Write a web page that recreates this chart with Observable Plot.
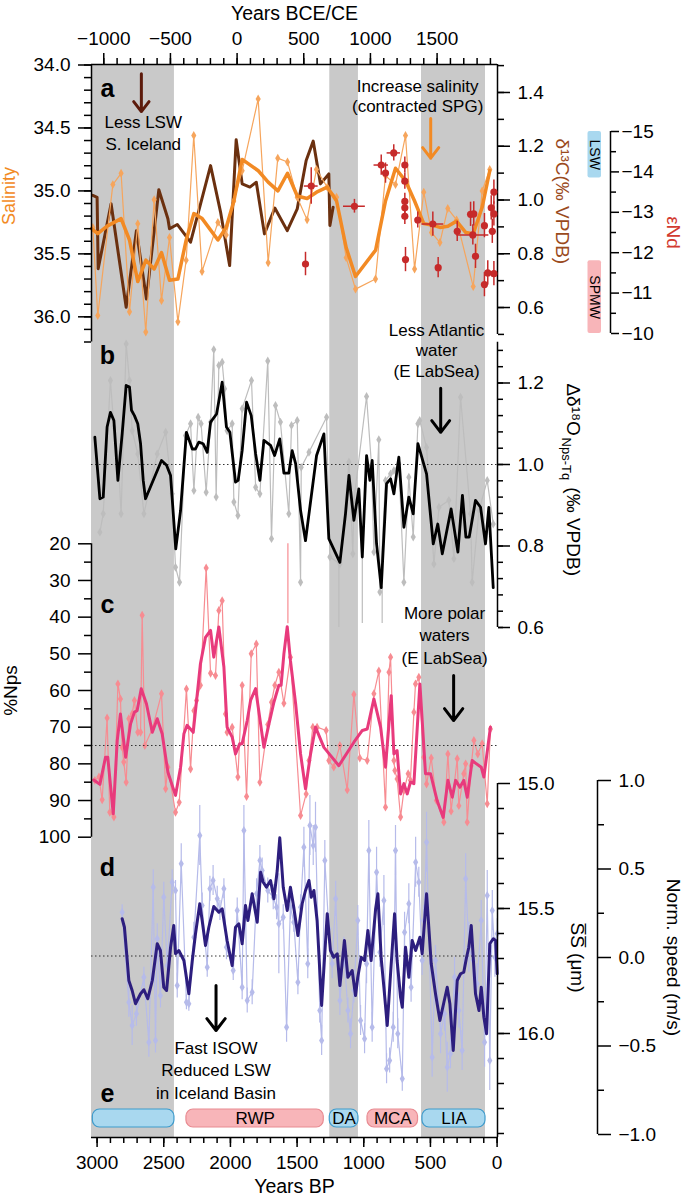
<!DOCTYPE html>
<html><head><meta charset="utf-8">
<script src="https://cdn.jsdelivr.net/npm/d3@7"></script>
<script src="https://cdn.jsdelivr.net/npm/@observablehq/plot@0.6"></script>
<style>
body{margin:0;background:#fff;}
#chart{position:relative;width:685px;height:1199px;overflow:hidden;}
</style></head><body><div id="chart"></div>
<script>
// ---------------- DATA ----------------
const grayBands = [[3042, 2420], [1255, 1040], [567, 87]];
const periods = [[3032, 2420, "", "cold"], [2330, 1300, "RWP", "warm"], [1255, 1040, "DA", "cold"], [972, 593, "MCA", "warm"], [560, 87, "LIA", "cold"]];
const bpMajor = [3000, 2500, 2000, 1500, 1000, 500, 0];
const ceMajor = [-1000, -500, 0, 500, 1000, 1500];
const salMajor = [34.0, 34.5, 35.0, 35.5, 36.0];
const d13Major = [0.6, 0.8, 1.0, 1.2, 1.4];
const endMajor = [-15, -14, -13, -12, -11, -10];
const d18Major = [0.6, 0.8, 1.0, 1.2];
const npsMajor = [20, 30, 40, 50, 60, 70, 80, 90, 100];
const ssMajor = [15.0, 15.5, 16.0];
const speedMajor = [-1.0, -0.5, 0.0, 0.5, 1.0];
const waterMasses = [["LSW", -15, -13.85, "#a9d8ef"], ["SPMW", -11.8, -10.0, "#f8b5b9"]];

// panel a: salinity (BP, psu)
const salinityThin = [[3032,35.29],[2995,35.99],[2882,34.95],[2820,34.86],[2757,35.96],[2695,35.26],[2635,36.12],[2572,35.07],[2517,35.87],[2457,35.37],[2394,36.04],[2332,35.55],[2275,34.56],[2213,35.64],[2094,35.25],[2032,35.35],[1975,35.08],[1912,34.84],[1792,34.27],[1717,35.57],[1645,34.74],[1572,34.77],[1499,35.05],[1425,35.23],[1355,34.83],[1274,34.97],[1204,35.05],[1132,35.53],[1062,35.78],[912,35.70],[837,34.88],[762,34.95],[687,34.56],[619,35.62],[550,35.01],[492,35.33],[429,35.41],[370,35.14],[304,35.23],[179,35.76],[112,35.00],[55,34.83]];
const salinitySmooth = [[3042,35.30],[2995,35.34],[2925,35.28],[2820,35.22],[2757,35.39],[2695,35.72],[2634,35.55],[2572,35.62],[2517,35.49],[2457,35.71],[2394,35.70],[2332,35.39],[2274,35.18],[2212,35.22],[2094,35.39],[2032,35.29],[1974,35.08],[1912,34.75],[1791,34.84],[1717,34.93],[1644,35.00],[1572,34.86],[1499,35.04],[1425,35.06],[1354,35.01],[1274,34.97],[1204,35.08],[1132,35.45],[1062,35.68],[911,35.47],[837,35.08],[762,34.82],[687,34.92],[619,35.08],[550,35.26],[492,35.27],[429,35.29],[369,35.28],[304,35.24],[236,35.33],[179,35.34],[112,35.13],[55,34.84]];
// panel a: d13C (BP, permil)
const d13C = [[3032,1.017],[3000,1.010],[2992,0.744],[2895,0.986],[2782,0.601],[2705,0.886],[2630,0.632],[2537,1.038],[2469,0.930],[2457,0.893],[2399,0.909],[2299,0.843],[2149,1.128],[2074,0.955],[2006,0.756],[1957,1.224],[1912,1.060],[1854,1.048],[1806,1.066],[1745,0.874],[1667,0.970],[1574,0.886],[1499,0.967],[1432,1.147],[1379,1.219],[1325,1.060],[1262,1.097],[1254,0.905],[1230,0.973]];
// panel a: eNd (BP, eNd, yErr, xErr)
const eNd = [[1437,-11.72,0.29,0],[1394,-13.65,0.45,52],[1070,-13.15,0.17,82],[869,-14.17,0.25,54],[837,-13.97,0.25,0],[775,-14.47,0.2,50],[692,-14.17,0.2,0],[692,-13.77,0.2,0],[692,-13.27,0.2,0],[692,-13.11,0.2,0],[692,-12.90,0.2,0],[687,-11.83,0.3,0],[595,-12.81,0.2,0],[482,-12.71,0.3,82],[442,-11.63,0.25,0],[299,-12.53,0.25,0],[199,-12.95,0.3,0],[175,-12.96,0.3,0],[182,-12.44,0.25,120],[162,-11.91,0.3,0],[95,-11.21,0.3,0],[95,-12.67,0.3,0],[70,-11.50,0.3,0],[44,-13.11,0.3,0],[24,-13.50,0.3,0],[24,-12.96,0.3,0],[36,-12.53,0.3,0],[24,-11.48,0.3,0]];

// panel b: delta d18O Nps-Tq
const d18Thin = [[2979,0.834],[2954,0.879],[2900,1.206],[2874,1.092],[2844,1.026],[2820,0.879],[2782,1.296],[2757,1.206],[2737,1.083],[2695,1.026],[2649,0.879],[2549,1.026],[2486,1.079],[2437,0.928],[2412,0.748],[2382,0.711],[2337,1.071],[2299,1.100],[2274,0.936],[2242,1.116],[2220,1.100],[2182,0.932],[2149,1.104],[2125,1.282],[2107,0.920],[2087,1.243],[2062,1.251],[2044,1.186],[2025,1.083],[1987,1.100],[1974,0.908],[1944,0.875],[1912,1.137],[1842,1.206],[1811,0.944],[1779,0.928],[1720,1.254],[1692,0.818],[1662,1.145],[1625,1.104],[1562,0.879],[1542,1.096],[1499,1.108],[1474,0.711],[1469,0.993],[1411,1.030],[1279,1.116],[1254,0.773],[1179,0.756],[1111,1.006],[1082,0.781],[1074,0.912],[979,1.167],[942,0.998],[924,0.785],[887,1.061],[879,0.687],[837,0.961],[799,0.977],[774,0.985],[737,1.002],[699,0.711],[662,0.969],[629,0.822],[594,1.100],[580,1.108],[529,1.042],[474,0.756],[436,0.895],[362,0.912],[324,0.769],[274,1.165],[199,0.879],[187,0.711],[136,0.887],[74,0.961],[29,0.854]];
const d18Smooth = [[3017,1.067],[2979,0.916],[2954,0.920],[2925,1.092],[2900,1.128],[2874,1.108],[2844,0.961],[2812,1.075],[2782,1.194],[2757,1.190],[2742,1.133],[2720,1.120],[2695,1.100],[2674,1.051],[2654,0.961],[2637,0.916],[2517,1.010],[2479,0.998],[2449,0.973],[2410,0.793],[2374,0.887],[2330,1.079],[2286,1.038],[2262,1.038],[2237,1.055],[2205,1.051],[2174,1.030],[2149,1.104],[2104,1.124],[2062,1.202],[2030,1.092],[2004,1.079],[1962,0.957],[1942,0.961],[1912,1.034],[1879,1.153],[1844,1.120],[1811,1.026],[1779,0.961],[1749,1.059],[1699,1.047],[1669,1.022],[1630,1.063],[1599,0.979],[1562,0.979],[1537,1.034],[1511,1.002],[1474,0.887],[1437,0.813],[1354,1.022],[1299,1.075],[1262,0.818],[1179,0.760],[1137,0.879],[1111,0.973],[1074,0.863],[1037,0.940],[1011,0.773],[979,1.022],[954,0.961],[937,1.010],[904,0.805],[869,0.698],[829,0.953],[799,0.965],[774,0.928],[737,1.018],[699,0.846],[662,0.920],[629,0.879],[594,1.051],[529,0.977],[479,0.805],[445,0.854],[411,0.781],[345,0.891],[294,0.785],[260,0.924],[234,0.822],[209,0.822],[162,0.912],[124,0.895],[87,0.805],[62,0.895],[29,0.698]];
const d18Err = [[1187,0.60,0.76],[1011,0.61,0.78],[862,0.61,0.70]];

// panel c: %Nps
const npsThin = [[3017,84.5],[2986,83.6],[2962,89.8],[2925,67.5],[2905,93.2],[2874,94.5],[2844,58.2],[2825,62.3],[2812,75.5],[2800,79.5],[2782,85.0],[2762,67.7],[2737,66.4],[2720,62.7],[2695,71.4],[2674,71.4],[2662,39.5],[2642,75.0],[2586,70.5],[2517,60.9],[2486,86.8],[2469,80.9],[2412,93.2],[2384,90.5],[2330,59.6],[2299,81.4],[2274,65.5],[2254,62.7],[2225,58.6],[2182,26.6],[2149,55.3],[2112,55.9],[2087,38.2],[2062,35.5],[2037,66.4],[2025,71.4],[1987,70.0],[1944,83.6],[1912,58.6],[1879,88.9],[1844,50.0],[1806,47.3],[1779,85.0],[1720,69.3],[1692,63.2],[1667,58.6],[1637,55.0],[1599,63.5],[1550,50.9],[1474,94.1],[1432,88.2],[1411,79.1],[1382,70.0],[1350,70.0],[1282,70.9],[1262,79.1],[1225,80.9],[1179,75.0],[1124,87.1],[1074,61.1],[1030,78.4],[974,79.1],[924,60.9],[887,54.7],[837,91.8],[811,55.0],[799,50.9],[774,79.1],[767,81.8],[750,84.1],[724,94.5],[699,87.3],[667,82.7],[650,84.5],[624,65.9],[612,58.2],[587,56.4],[550,78.2],[529,85.5],[494,78.4],[455,90.0],[399,95.9],[369,77.3],[345,92.9],[299,78.6],[287,91.4],[250,82.7],[236,80.0],[224,95.9],[194,80.5],[174,73.6],[145,77.3],[112,74.5],[74,90.9],[50,70.5]];
const npsSmooth = [[3025,84.4],[2979,85.6],[2937,78.2],[2920,78.2],[2879,93.6],[2849,73.6],[2825,66.4],[2786,78.2],[2749,69.1],[2720,65.9],[2700,65.5],[2669,59.5],[2630,63.6],[2586,71.4],[2549,67.7],[2512,71.8],[2469,82.3],[2412,88.6],[2374,80.9],[2349,71.8],[2325,69.5],[2279,71.4],[2225,52.7],[2187,45.5],[2149,43.6],[2125,50.9],[2087,42.7],[2049,53.6],[2025,70.0],[1987,72.7],[1962,77.3],[1930,74.5],[1912,74.5],[1874,68.2],[1849,62.7],[1811,59.5],[1749,75.5],[1711,69.1],[1674,63.2],[1637,58.6],[1620,58.6],[1599,50.0],[1574,42.6],[1550,51.8],[1511,63.6],[1474,77.3],[1437,86.8],[1399,77.3],[1362,70.0],[1299,75.5],[1187,80.5],[1074,74.1],[1011,70.9],[974,70.5],[924,62.3],[874,70.0],[837,80.9],[794,61.4],[774,77.3],[750,76.4],[724,88.2],[699,85.4],[674,88.2],[650,85.0],[624,85.4],[579,58.2],[537,82.7],[499,82.7],[450,90.0],[404,94.6],[369,84.5],[336,89.1],[311,84.5],[279,86.4],[250,84.5],[224,89.1],[187,79.1],[155,80.0],[119,80.9],[99,83.6],[50,70.0]];
const npsErr = [[1569,20,41.8]];

// panel d: sortable silt mean size (BP, um, err)
const ssThin = [[2812,15.515,0.03],[2762,15.875,0.06],[2737,15.968,0.08],[2705,15.921,0.05],[2649,15.775,0.04],[2612,16.035,0.06],[2579,15.415,0.07],[2562,16.028,0.05],[2549,15.621,0.06],[2525,15.848,0.05],[2500,15.455,0.06],[2474,15.728,0.04],[2437,15.395,0.05],[2412,15.428,0.04],[2399,15.808,0.05],[2369,15.321,0.08],[2330,15.875,0.03],[2312,15.881,0.03],[2274,15.615,0.06],[2230,15.208,0.12],[2212,15.488,0.05],[2174,15.735,0.04],[2154,15.421,0.05],[2130,15.388,0.06],[2099,15.461,0.05],[2079,15.508,0.04],[2049,15.421,0.04],[2030,15.655,0.05],[1979,15.748,0.04],[1949,15.508,0.05],[1912,15.815,0.05],[1899,15.188,0.1],[1874,15.868,0.05],[1837,15.835,0.05],[1804,15.441,0.06],[1779,15.308,0.06],[1762,15.348,0.05],[1720,15.428,0.05],[1679,15.455,0.05],[1654,15.495,0.05],[1637,15.561,0.2],[1604,15.535,0.05],[1579,15.975,0.06],[1550,15.495,0.05],[1525,15.555,0.04],[1494,15.795,0.05],[1474,15.495,0.05],[1449,15.255,0.08],[1420,15.721,0.06],[1404,15.168,0.12],[1379,15.248,0.08],[1362,15.175,0.1],[1330,15.908,0.05],[1316,16.028,0.06],[1292,15.308,0.08],[1262,15.581,0.06],[1237,15.721,0.06],[1211,15.461,0.07],[1179,15.868,0.06],[1149,15.675,0.06],[1119,15.908,0.05],[1099,16.001,0.06],[1074,15.828,0.05],[1045,15.548,0.06],[1024,15.948,0.06],[994,16.021,0.06],[979,15.721,0.08],[962,15.268,0.12],[937,15.975,0.06],[904,15.355,0.1],[879,15.675,0.06],[849,15.468,0.1],[829,16.141,0.06],[806,16.108,0.05],[779,15.975,0.06],[762,15.268,0.1],[745,16.001,0.06],[711,16.181,0.05],[694,15.595,0.08],[662,15.481,0.08],[645,15.815,0.06],[611,15.315,0.1],[587,15.395,0.06],[562,15.708,0.06],[550,15.548,0.06],[529,15.235,0.12],[487,16.095,0.08],[462,15.708,0.06],[424,16.001,0.08],[394,15.921,0.07],[374,16.135,0.1],[350,16.081,0.06],[319,15.775,0.08],[287,15.908,0.07],[262,16.068,0.08],[236,15.381,0.1],[212,15.655,0.1],[179,15.708,0.08],[150,15.801,0.08],[119,15.548,0.08],[94,16.035,0.1],[74,15.448,0.1],[55,16.108,0.12],[36,15.508,0.08],[16,15.695,0.08],[-1,15.601,0.06]];
const ssSmooth = [[2812,15.541],[2795,15.575],[2774,15.708],[2762,15.788],[2737,15.828],[2712,15.881],[2674,15.841],[2649,15.825],[2620,15.861],[2586,15.788],[2549,15.641],[2525,15.668],[2500,15.815],[2479,15.828],[2449,15.655],[2425,15.568],[2412,15.681],[2387,15.668],[2349,15.708],[2312,15.841],[2286,15.708],[2262,15.601],[2230,15.481],[2212,15.548],[2187,15.648],[2162,15.575],[2125,15.492],[2087,15.515],[2062,15.501],[2025,15.628],[1987,15.728],[1962,15.575],[1937,15.561],[1912,15.641],[1887,15.488],[1869,15.548],[1837,15.441],[1799,15.555],[1774,15.355],[1754,15.395],[1730,15.415],[1699,15.388],[1674,15.461],[1649,15.348],[1630,15.217],[1604,15.415],[1574,15.508],[1550,15.415],[1525,15.495],[1494,15.608],[1462,15.481],[1437,15.428],[1411,15.388],[1394,15.455],[1374,15.428],[1350,15.548],[1316,15.888],[1274,15.521],[1250,15.668],[1225,15.695],[1199,15.681],[1179,15.808],[1145,15.628],[1119,15.775],[1087,15.748],[1062,15.848],[1045,15.775],[1019,15.695],[994,15.708],[969,15.588],[945,15.708],[911,15.501],[894,15.441],[869,15.701],[849,15.815],[824,15.968],[799,15.761],[769,15.521],[750,15.708],[724,15.855],[711,15.895],[687,15.655],[662,15.775],[637,15.628],[611,15.668],[579,15.615],[562,15.681],[529,15.441],[494,15.721],[462,15.841],[429,15.948],[399,15.875],[374,15.815],[354,15.881],[329,16.068],[299,15.788],[274,15.761],[250,15.755],[229,15.695],[212,15.655],[194,15.568],[162,15.841],[136,15.908],[119,15.815],[99,15.935],[79,16.001],[55,15.641],[29,15.621],[11,15.628],[-1,15.761]];
const ssMeanLine = [15.69];

// annotations: [text, BP, value]
const notesA = [["Less LSW", 2654, 34.46], ["S. Iceland", 2654, 34.63], ["Increase salinity", 596, 34.17], ["(contracted SPG)", 596, 34.33]];
const notesB = [["Less Atlantic", 454, 1.329], ["water", 454, 1.280], ["(E LabSea)", 454, 1.228]];
const notesC = [["More polar", 394, 39.0], ["waters", 394, 45.0], ["(E LabSea)", 394, 51.3]];
const notesD = [["Fast ISOW", 2108, 16.06], ["Reduced LSW", 2108, 16.148], ["in Iceland Basin", 2108, 16.24]];
const arrowsA = [[2668, 34.07, 34.37, "#5c1a0b"], [498, 34.425, 34.74, "#f28a24"]];
const arrowB = [[423, 1.187, 1.079]];
const arrowC = [[326, 55.9, 68.2]];
const arrowD = [[2108, 15.808, 15.988]];

// ---------------- DRAWING ----------------
const chart = document.getElementById("chart");
const W = 685, H = 1199;
const FL = 91, FR = 497, FT = 64, FB = 1137;
const BP_L = 3042, BP_R = -3;
const FONT = "'Liberation Sans', Arial, Helvetica, sans-serif";
const X_BP = {domain: [BP_L, BP_R], range: [FL, FR]};
const ORANGE = "#f28a24", ORANGE_L = "#f6a55c", BROWN = "#6b300f", RED = "#c62a2a",
      GRAY = "#bdbdbd", PINK = "#e83a7c", PINK_L = "#f78c92", PURPLE = "#2d1e7e", PURPLE_L = "#b6bbea";
const fmt1 = d3.format(".1f"), fmt0 = d3.format("d"), blank = () => "";
const px = d => d[0], py = d => d[1];
const TICKFS = 19;

function addLayer({x = X_BP, y, marks, mt = FT, mb = H - FB, ml = FL, mr = W - FR}) {
  const svg = Plot.plot({
    width: W, height: H,
    marginTop: mt, marginBottom: mb, marginLeft: ml, marginRight: mr,
    x: {...x, axis: null},
    ...(y ? {y: {...y, axis: null}} : {}),
    style: `position:absolute;left:0;top:0;background:transparent;font-family:${FONT};font-size:18px;overflow:visible;`,
    marks
  });
  chart.appendChild(svg);
}
const axY = (anchor, ticks, size, pad, fmt) => Plot.axisY({anchor, ticks, tickSize: size, tickPadding: pad, tickFormat: fmt, fontSize: TICKFS, strokeWidth: 1.5, label: null});
const axX = (anchor, ticks, size, pad, fmt) => Plot.axisX({anchor, ticks, tickSize: size, tickPadding: pad, tickFormat: fmt, fontSize: TICKFS, strokeWidth: 1.5, label: null});
const letter = (t, bp, v) => Plot.text([[bp, v]], {x: px, y: py, text: () => t, fontSize: 25, fontWeight: "bold"});
const notes = arr => Plot.text(arr, {x: d => d[1], y: d => d[2], text: d => d[0], fontSize: 17});
const arrows = (arr, color) => Plot.arrow(arr, {x1: d => d[0], x2: d => d[0], y1: d => d[1], y2: d => d[2], stroke: d => d[3] || color, strokeWidth: 3, headLength: 14, headAngle: 75});
const sideLabel = (v, anchor, dx, rot, txt, opts = {}) => Plot.text([v], {y: d => d, frameAnchor: anchor, dx, rotate: rot, textAnchor: "middle", lineAnchor: "middle", text: () => txt, fontSize: 19, ...opts});

// background bands, frame lines and bottom BP axis
addLayer({
  y: {domain: [0, 1], range: [FT, FB]},
  marks: [
    Plot.rect(grayBands, {x1: px, x2: py, fill: "#c9c9c9"}),
    Plot.ruleY([0, 1], {stroke: "#000", strokeWidth: 1.5}),
    axX("bottom", bpMajor, 10, 8, fmt0),
    axX("bottom", d3.range(0, 3001, 100), 6, 8, blank),
    Plot.text(["Years BP"], {frameAnchor: "bottom", dy: 49, lineAnchor: "middle", fontSize: 19.5})
  ]
});
// top CE axis
addLayer({
  x: {domain: [1950 - BP_L, 1950 - BP_R], range: [FL, FR]},
  marks: [
    axX("top", ceMajor, 12, 8, fmt0),
    axX("top", d3.range(-1000, 1901, 100), 7, 8, blank),
    Plot.text(["Years BCE/CE"], {frameAnchor: "top", dy: -51, lineAnchor: "middle", fontSize: 19.5})
  ]
});
// panel e: climate periods
addLayer({
  y: {domain: [0, 1], range: [1109, 1127]},
  marks: [
    Plot.rect(periods, {x1: d => d[0], x2: d => d[1], y1: 0, y2: 1, rx: 7,
      fill: d => d[3] === "cold" ? "#a9d8ef" : "#f8b5b9", stroke: d => d[3] === "cold" ? "#3e9bcc" : "#e88b92", strokeWidth: 1.2}),
    Plot.text(periods, {x: d => (d[0] + d[1]) / 2, y: 0.5, text: d => d[2], fontSize: 17})
  ]
});
// panel a: d13C
addLayer({
  y: {domain: [0.5, 1.5], range: [333.9, 65.1]},
  marks: [
    Plot.line(d13C, {x: px, y: py, stroke: BROWN, strokeWidth: 3}),
    Plot.ruleX([BP_R], {y1: 0.5, y2: 1.504, strokeWidth: 1.5}),
    axY("right", d13Major, 12, 8, fmt1),
    axY("right", d3.range(0.5, 1.51, 0.1), 6, 8, blank),
    sideLabel(0.995, "right", 65, 90, "δ¹³C(‰ VPDB)", {fill: "#9a4a1c"})
  ]
});
// panel a: salinity
addLayer({
  y: {domain: [34, 36.2], range: [64.5, 341.5]},
  marks: [
    Plot.line(salinityThin, {x: px, y: py, stroke: ORANGE_L, strokeWidth: 1.2}),
    Plot.dot(salinityThin, {x: px, y: py, symbol: "diamond", r: 2.7, fill: ORANGE_L}),
    Plot.line(salinitySmooth, {x: px, y: py, stroke: ORANGE, strokeWidth: 3.5}),
    Plot.ruleX([BP_L], {y1: 34, y2: 36.2, strokeWidth: 1.5}),
    axY("left", salMajor, 13, 8, fmt1),
    axY("left", d3.range(34, 36.21, 0.1), 7, 8, blank),
    sideLabel(35.04, "left", -82, -90, "Salinity", {fill: ORANGE, fontSize: 18}),
    notes(notesA),
    arrows(arrowsA),
    letter("a", 2923, 34.19)
  ]
});
// panel a: eNd data
addLayer({
  y: {domain: [-15, -10], range: [131, 333]},
  marks: [
    Plot.ruleX(eNd, {x: d => d[0], y1: d => d[1] - d[2], y2: d => d[1] + d[2], stroke: RED, strokeWidth: 1.5}),
    Plot.ruleY(eNd.filter(d => d[3] > 0), {y: d => d[1], x1: d => d[0] + d[3], x2: d => d[0] - d[3], stroke: RED, strokeWidth: 1.5}),
    Plot.dot(eNd, {x: d => d[0], y: d => d[1], r: 3.6, fill: RED})
  ]
});
// panel a: eNd axis with water-mass boxes
addLayer({
  x: {domain: [0, 1]}, ml: 580, mr: 75,
  y: {domain: [-15, -10], range: [131, 333]},
  marks: [
    Plot.rect(waterMasses, {x1: 0.25, x2: 0.7, y1: d => d[1], y2: d => d[2], fill: d => d[3], rx: 2}),
    Plot.text(waterMasses, {x: 0.475, y: d => (d[1] + d[2]) / 2, text: d => d[0], rotate: 90, fontSize: 14}),
    Plot.ruleX([1], {y1: -15, y2: -10, strokeWidth: 1.5}),
    axY("right", endMajor, 8, 3, fmt0),
    axY("right", d3.range(-14.5, -10, 1), 5, 3, blank),
    sideLabel(-12.5, "right", 63, 90, "εNd", {fill: "#d23a2f"})
  ]
});
// panel b
addLayer({
  y: {domain: [0.6, 1.3], range: [627, 341.75]},
  marks: [
    Plot.ruleX(d18Err, {x: px, y1: d => d[1], y2: d => d[2], stroke: GRAY, strokeWidth: 1.2}),
    Plot.line(d18Thin, {x: px, y: py, stroke: GRAY, strokeWidth: 1.2}),
    Plot.dot(d18Thin, {x: px, y: py, symbol: "diamond", r: 2.7, fill: GRAY}),
    Plot.ruleY([1.0], {stroke: "#333", strokeWidth: 1, strokeDasharray: "1.5,2.5"}),
    Plot.line(d18Smooth, {x: px, y: py, stroke: "#000", strokeWidth: 2.8}),
    Plot.ruleX([BP_R], {y1: 0.6, y2: 1.3, strokeWidth: 1.5}),
    axY("right", d18Major, 12, 8, fmt1),
    axY("right", d3.range(0.6, 1.29, 0.04), 5, 8, blank),
    Plot.text([1.199], {y: d => d, frameAnchor: "right", dx: 76, rotate: 90, textAnchor: "start", lineAnchor: "middle", text: () => "Δδ¹⁸O", fontSize: 19}),
    Plot.text([1.066], {y: d => d, frameAnchor: "right", dx: 69, rotate: 90, textAnchor: "start", lineAnchor: "middle", text: () => "Nps-Tq", fontSize: 13}),
    Plot.text([0.944], {y: d => d, frameAnchor: "right", dx: 76, rotate: 90, textAnchor: "start", lineAnchor: "middle", text: () => "(‰ VPDB)", fontSize: 19}),
    notes(notesB),
    arrows(arrowB, "#000"),
    letter("b", 2923, 1.267)
  ]
});
// panel c
addLayer({
  y: {domain: [20, 100], range: [543.3, 836.7]},
  marks: [
    Plot.ruleX(npsErr, {x: px, y1: d => d[1], y2: d => d[2], stroke: PINK_L, strokeWidth: 1.2}),
    Plot.line(d3.sort(npsThin, d => -d[0]), {x: px, y: py, stroke: PINK_L, strokeWidth: 1.2}),
    Plot.dot(npsThin, {x: px, y: py, symbol: "diamond", r: 2.7, fill: PINK_L}),
    Plot.ruleY([75], {stroke: "#333", strokeWidth: 1, strokeDasharray: "1.5,2.5"}),
    Plot.line(npsSmooth, {x: px, y: py, stroke: PINK, strokeWidth: 3}),
    Plot.ruleX([BP_L], {y1: 20, y2: 100, strokeWidth: 1.5}),
    axY("left", npsMajor, 13, 8, fmt0),
    axY("left", d3.range(25, 100, 10), 7, 8, blank),
    sideLabel(60, "left", -81, -90, "%Nps"),
    notes(notesC),
    arrows(arrowC, "#000"),
    letter("c", 2923, 36.8)
  ]
});
// panel d: SS
addLayer({
  y: {domain: [15.0, 16.4], range: [783, 1133]},
  marks: [
    Plot.ruleX(ssThin, {x: px, y1: d => d[1] - d[2], y2: d => d[1] + d[2], stroke: PURPLE_L, strokeWidth: 1.2}),
    Plot.line(ssThin, {x: px, y: py, stroke: PURPLE_L, strokeWidth: 1.2}),
    Plot.dot(ssThin, {x: px, y: py, symbol: "diamond", r: 2.7, fill: PURPLE_L}),
    Plot.ruleY(ssMeanLine, {stroke: "#333", strokeWidth: 1, strokeDasharray: "1.5,2.5"}),
    Plot.line(ssSmooth, {x: px, y: py, stroke: PURPLE, strokeWidth: 3}),
    Plot.ruleX([BP_R], {y1: 15.0, y2: 16.416, strokeWidth: 1.5}),
    axY("right", ssMajor, 12, 8, fmt1),
    axY("right", d3.range(15.1, 16.41, 0.1), 6, 8, blank),
    sideLabel(15.696, "right", 80, 90, "S\u0305S\u0305 (μm)"),
    notes(notesD),
    arrows(arrowD, "#000"),
    letter("d", 2923, 15.336),
    letter("e", 2923, 16.24)
  ]
});
// panel d: normalised speed axis
addLayer({
  x: {domain: [0, 1]}, ml: 580, mr: 88,
  y: {domain: [-1, 1], range: [1134, 780]},
  marks: [
    Plot.ruleX([1], {y1: -1, y2: 1, strokeWidth: 1.5}),
    axY("right", speedMajor, 13, 8, fmt1),
    axY("right", [-0.75, -0.25, 0.25, 0.75], 6, 8, blank),
    sideLabel(0, "right", 76, 90, "Norm. speed (m/s)")
  ]
});
</script></body></html>
